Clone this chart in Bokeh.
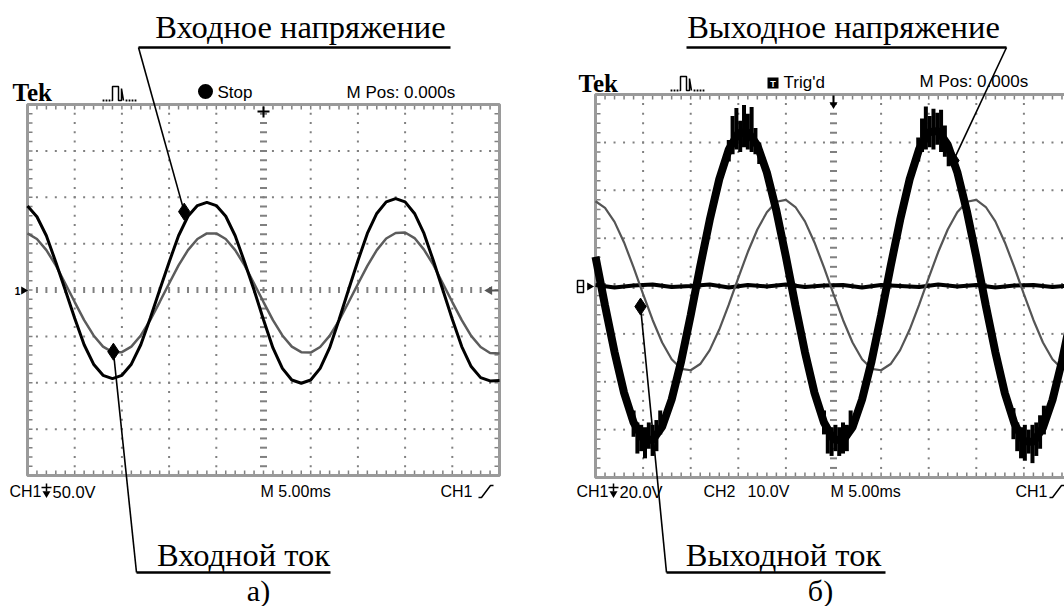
import numpy as np
from bokeh.plotting import figure
from bokeh.models import Range1d, Label
from bokeh.embed import file_html
from bokeh.resources import INLINE

W, H = 1064, 606

# ---------------- values ----------------
# time in ms (5 ms/div, 10 div); trace values in screen divisions
t_ms = list(range(51))

# a) input voltage (black) and input current (grey)
in_voltage = [1.81, 1.58, 1.17, 0.60, 0.00, -0.61, -1.18, -1.60, -1.84, -1.91,
              -1.84, -1.60, -1.18, -0.61, 0.00, 0.60, 1.17, 1.59, 1.82, 1.89,
              1.82, 1.59, 1.17, 0.60, 0.00, -0.64, -1.25, -1.69, -1.94, -2.01,
              -1.94, -1.69, -1.25, -0.64, 0.00, 0.63, 1.22, 1.65, 1.90, 1.97,
              1.90, 1.65, 1.22, 0.63, 0.00, -0.63, -1.22, -1.65, -1.89, -1.96, -1.95]
in_current = [1.22, 1.10, 0.86, 0.53, 0.14, -0.26, -0.65, -0.98, -1.22, -1.34,
              -1.34, -1.22, -0.98, -0.65, -0.26, 0.14, 0.53, 0.86, 1.10, 1.22,
              1.22, 1.10, 0.86, 0.53, 0.14, -0.26, -0.65, -0.98, -1.22, -1.34,
              -1.35, -1.23, -0.99, -0.66, -0.27, 0.13, 0.52, 0.86, 1.11, 1.23,
              1.24, 1.12, 0.87, 0.54, 0.14, -0.26, -0.65, -0.99, -1.23, -1.36, -1.37]

# б) output voltage (CH1, thick black) and output current (CH2, grey)
out_voltage = [0.61, -0.41, -1.38, -2.23, -2.85, -3.19, -3.22, -2.94, -2.37, -1.57,
               -0.61, 0.41, 1.38, 2.23, 2.85, 3.19, 3.22, 2.94, 2.37, 1.57,
               0.61, -0.41, -1.38, -2.23, -2.85, -3.20, -3.23, -2.95, -2.37, -1.57,
               -0.61, 0.41, 1.38, 2.23, 2.86, 3.21, 3.24, 2.95, 2.38, 1.57,
               0.61, -0.41, -1.38, -2.24, -2.87, -3.24, -3.26, -2.96, -2.38, -1.57, -0.61]
out_current = [1.77, 1.63, 1.34, 0.91, 0.39, -0.17, -0.71, -1.18, -1.53, -1.73,
               -1.76, -1.63, -1.34, -0.91, -0.39, 0.17, 0.71, 1.18, 1.54, 1.76,
               1.80, 1.65, 1.35, 0.91, 0.39, -0.17, -0.71, -1.18, -1.53, -1.73,
               -1.76, -1.63, -1.34, -0.91, -0.39, 0.17, 0.71, 1.18, 1.54, 1.76,
               1.80, 1.65, 1.35, 0.91, 0.39, -0.17, -0.71, -1.18, -1.53, -1.73, -1.76]

# noisy bursts around the output-voltage extremes
burst_t = [4.0, 4.4, 4.8, 5.2, 5.6, 6.0, 6.4, 6.8,
           14.0, 14.4, 14.8, 15.2, 15.6, 16.0, 16.4, 16.8, 17.2,
           24.0, 24.4, 24.8, 25.2, 25.6, 26.0, 26.4, 26.8,
           33.9, 34.3, 34.7, 35.1, 35.5, 35.9, 36.3, 36.7, 37.1,
           43.9, 44.3, 44.7, 45.1, 45.5, 45.9, 46.3, 46.7, 47.1]
burst_lo = [-3.15, -3.50, -3.45, -3.60, -3.40, -3.55, -3.45, -3.10,
            2.60, 2.75, 2.85, 2.80, 2.90, 2.85, 2.80, 2.75, 2.55,
            -3.10, -3.50, -3.55, -3.45, -3.55, -3.50, -3.45, -3.05,
            2.60, 2.80, 2.85, 2.90, 2.85, 2.95, 2.80, 2.70, 2.50,
            -3.20, -3.45, -3.60, -3.65, -3.50, -3.70, -3.55, -3.40, -3.10]
burst_hi = [-2.60, -2.85, -2.90, -2.95, -2.85, -2.90, -2.80, -2.60,
            3.05, 3.55, 3.72, 3.45, 3.78, 3.60, 3.74, 3.30, 3.00,
            -2.60, -2.90, -2.95, -2.90, -2.95, -2.85, -2.90, -2.60,
            3.10, 3.50, 3.75, 3.55, 3.70, 3.62, 3.68, 3.35, 3.00,
            -2.55, -2.85, -2.95, -2.90, -3.00, -2.90, -2.85, -2.70, -2.50]

# flat noisy trace on the zero line of б)
flat_t = list(range(0, 51, 2))
flat_v = [0.02, -0.03, 0.01, 0.03, -0.02, 0.00, 0.03, -0.03, 0.02, -0.01, 0.03, -0.02, 0.01,
          0.02, -0.03, 0.02, 0.00, -0.02, 0.03, -0.01, 0.02, -0.03, 0.01, 0.02, -0.02, 0.01]

# callout markers (ms, div)
mark_in_v = (16.6, 1.69)
mark_in_i = (9.1, -1.33)
mark_out_v = (37.6, 2.62)
mark_out_i = (4.73, -0.43)

# ---------------- layout ----------------
LBOX = dict(left=27, right=499, top=104, bottom=475)
RBOX = dict(left=595, right=1071, top=94, bottom=477)


def scope_geom(box):
    sx = (box["right"] - box["left"]) / 50.0
    sy = (box["bottom"] - box["top"]) / 8.0
    cy = (box["top"] + box["bottom"]) / 2.0
    xr = Range1d(start=-box["left"] / sx, end=(W - box["left"]) / sx)
    yr = Range1d(start=-(H - cy) / sy, end=cy / sy)
    return xr, yr, sx, sy, cy


Lxr, Lyr, Lsx, Lsy, Lcy = scope_geom(LBOX)
Rxr, Ryr, Rsx, Rsy, Rcy = scope_geom(RBOX)


def to_page(box, sx, sy, cy, pt):
    return box["left"] + pt[0] * sx, cy - pt[1] * sy


p = figure(width=W, height=H, x_range=Range1d(0, W), y_range=Range1d(H, 0),
           output_backend="svg", toolbar_location=None, min_border=0,
           x_axis_location=None, y_axis_location=None, outline_line_color=None,
           background_fill_color="white", border_fill_color="white")
p.xgrid.visible = False
p.ygrid.visible = False
p.extra_x_ranges = {"lx": Lxr, "rx": Rxr}
p.extra_y_ranges = {"ly": Lyr, "ry": Ryr}

GC = "#808080"


def draw_scope(xr, yr, sx, sy):
    kw = dict(x_range_name=xr, y_range_name=yr)
    xs, ys = [], []
    for k in (1, 2, 3, 4, 6, 7, 8, 9):
        for j in range(41):
            xs.append(k * 5)
            ys.append(-4 + 0.2 * j)
    for k in (-3, -2, -1, 1, 2, 3):
        for j in range(51):
            xs.append(j)
            ys.append(k)
    p.scatter(xs, ys, marker="square", size=2, fill_color=GC, line_color=None, **kw)
    # centre cross with ticks
    p.scatter([25] * 41, [-4 + 0.2 * j for j in range(41)], marker="dash", size=7,
              line_color=GC, line_width=2, **kw)
    p.scatter(list(range(51)), [0] * 51, marker="dash", size=6, angle=np.pi / 2,
              line_color=GC, line_width=2, **kw)
    # border ticks
    oy = 2.5 / sy
    ox = 2.5 / sx
    p.scatter(list(range(51)), [4 - oy] * 51, marker="dash", size=5, angle=np.pi / 2,
              line_color=GC, line_width=1.5, **kw)
    p.scatter(list(range(51)), [-4 + oy] * 51, marker="dash", size=5, angle=np.pi / 2,
              line_color=GC, line_width=1.5, **kw)
    p.scatter([ox] * 41, [-4 + 0.2 * j for j in range(41)], marker="dash", size=5,
              line_color=GC, line_width=1.5, **kw)
    p.scatter([50 - ox] * 41, [-4 + 0.2 * j for j in range(41)], marker="dash", size=5,
              line_color=GC, line_width=1.5, **kw)
    p.quad(left=[0], right=[50], bottom=[-4], top=[4], fill_color=None,
           line_color="#9a9a9a", line_width=3, **kw)


draw_scope("lx", "ly", Lsx, Lsy)
draw_scope("rx", "ry", Rsx, Rsy)

# ---- traces a)
p.line(t_ms, in_current, line_color="#5c5c5c", line_width=2.5, x_range_name="lx", y_range_name="ly")
p.line(t_ms, in_voltage, line_color="black", line_width=3, x_range_name="lx", y_range_name="ly")

# ---- traces б)
p.line(flat_t, flat_v, line_color="black", line_width=4, x_range_name="rx", y_range_name="ry")
p.line(t_ms, out_current, line_color="#555555", line_width=2.2, x_range_name="rx", y_range_name="ry")
p.line(t_ms, out_voltage, line_color="black", line_width=8, x_range_name="rx", y_range_name="ry")
p.segment(x0=burst_t, y0=burst_lo, x1=burst_t, y1=burst_hi, line_color="black", line_width=4,
          x_range_name="rx", y_range_name="ry")

# ---- callout diamonds
for (pt, xr, yr) in ((mark_in_v, "lx", "ly"), (mark_in_i, "lx", "ly"),
                     (mark_out_v, "rx", "ry"), (mark_out_i, "rx", "ry")):
    p.scatter([pt[0]], [pt[1]], marker="diamond", size=17, fill_color="black",
              line_color="black", x_range_name=xr, y_range_name=yr)

iv = to_page(LBOX, Lsx, Lsy, Lcy, mark_in_v)
ii = to_page(LBOX, Lsx, Lsy, Lcy, mark_in_i)
ov = to_page(RBOX, Rsx, Rsy, Rcy, mark_out_v)
oi = to_page(RBOX, Rsx, Rsy, Rcy, mark_out_i)

LW = 1.6
p.line([iv[0], 138], [iv[1], 47], line_color="black", line_width=LW)
p.line([138, 450], [47, 47], line_color="black", line_width=2.5)
p.line([ov[0], 1006], [ov[1], 47], line_color="black", line_width=LW)
p.line([686, 1006], [47, 47], line_color="black", line_width=2.5)
p.line([ii[0], 136], [ii[1], 572], line_color="black", line_width=LW)
p.line([136, 330], [572, 572], line_color="black", line_width=2.5)
p.line([oi[0], 666], [oi[1], 572], line_color="black", line_width=LW)
p.line([666, 885], [572, 572], line_color="black", line_width=2.5)


def label(x, y, text, size, font="Liberation Sans", align="left", style="normal",
          baseline="middle", color="black"):
    p.add_layout(Label(x=x, y=y, text=text, text_font=font, text_font_size=f"{size}px",
                       text_align=align, text_baseline=baseline, text_font_style=style,
                       text_color=color))


SERIF = "Liberation Serif"
label(300, 26, "Входное напряжение", 32.5, SERIF, "center")
label(843, 26, "Выходное напряжение", 32.5, SERIF, "center")
label(243, 554, "Входной ток", 32.5, SERIF, "center")
label(783, 554, "Выходной ток", 32.5, SERIF, "center")
label(258, 590, "а)", 30, SERIF, "center")
label(820, 590, "б)", 30, SERIF, "center")


# ---- oscilloscope header / footer texts
def pulse_icon(x0, yb):
    for dx in (1, 4, 7, 24, 27, 30, 33):
        p.scatter([x0 + dx], [yb], marker="square", size=1.8, fill_color="black", line_color=None)
    p.line([x0 + 9, x0 + 10, x0 + 10, x0 + 16, x0 + 16, x0 + 19, x0 + 19, x0 + 21],
           [yb, yb, yb - 14, yb - 14, yb, yb, yb - 12, yb],
           line_color="black", line_width=1.5)


def scale_note(x, y):
    # coupling symbol between "CH1" and the volts/div value
    p.line([x - 5, x + 5], [y - 4, y - 4], line_color="black", line_width=1.5)
    p.line([x, x], [y - 8, y], line_color="black", line_width=1.5)
    p.scatter([x], [y + 2], marker="inverted_triangle", size=8, fill_color="black", line_color=None)


def edge_icon(x, y):
    p.line([x - 3, x, x + 9, x + 12], [y + 6, y + 6, y - 6, y - 6], line_color="black", line_width=1.5)


# left scope
label(12, 92, "Tek", 25, SERIF, style="bold")
pulse_icon(102, 100)
p.scatter([205], [91], marker="circle", size=15, fill_color="black", line_color=None)
label(217, 92, "Stop", 17)
label(346, 92, "M Pos: 0.000s", 17)
label(9, 491, "CH1", 16)
scale_note(46, 491)
label(52, 491, "50.0V", 16.5)
label(260, 491, "M 5.00ms", 16)
label(440, 491, "CH1", 16)
edge_icon(481, 491)
# trigger / level markers
p.line([257, 269], [111, 111], line_color="black", line_width=2)
p.line([263, 263], [106, 117], line_color="black", line_width=2)
label(17, 290, "1", 10, style="bold", align="center")
p.scatter([23], [290], marker="triangle", angle=-np.pi / 2, size=8, fill_color="black", line_color=None)
p.scatter([489], [290], marker="triangle", angle=np.pi / 2, size=9, fill_color="#555555", line_color=None)
p.line([489, 498], [290, 290], line_color="#555555", line_width=2)

# right scope
label(578, 83, "Tek", 25, SERIF, style="bold")
pulse_icon(670, 90)
p.rect([772.5], [82.5], width=11, height=11, fill_color="black", line_color=None)
label(772.5, 83, "T", 9, style="bold", align="center", color="white")
label(783, 82, "Trig'd", 17)
label(919, 81, "M Pos: 0.000s", 17)
label(576, 491, "CH1", 16)
scale_note(613, 491)
label(619, 491, "20.0V", 16.5)
label(703, 491, "CH2", 16)
label(747, 491, "10.0V", 16)
label(830, 491, "M 5.00ms", 16)
label(1015, 491, "CH1", 16)
edge_icon(1052, 491)
p.line([833, 833], [95, 103], line_color="black", line_width=2)
p.scatter([833], [104], marker="inverted_triangle", size=8, fill_color="black", line_color=None)
p.quad(left=[577], right=[583], top=[280], bottom=[292], fill_color=None, line_color="black", line_width=1.5)
p.line([577, 583], [286, 286], line_color="black", line_width=1.2)
p.scatter([589], [286], marker="triangle", angle=-np.pi / 2, size=8, fill_color="black", line_color=None)

open("out.html", "w").write(file_html(p, INLINE))
